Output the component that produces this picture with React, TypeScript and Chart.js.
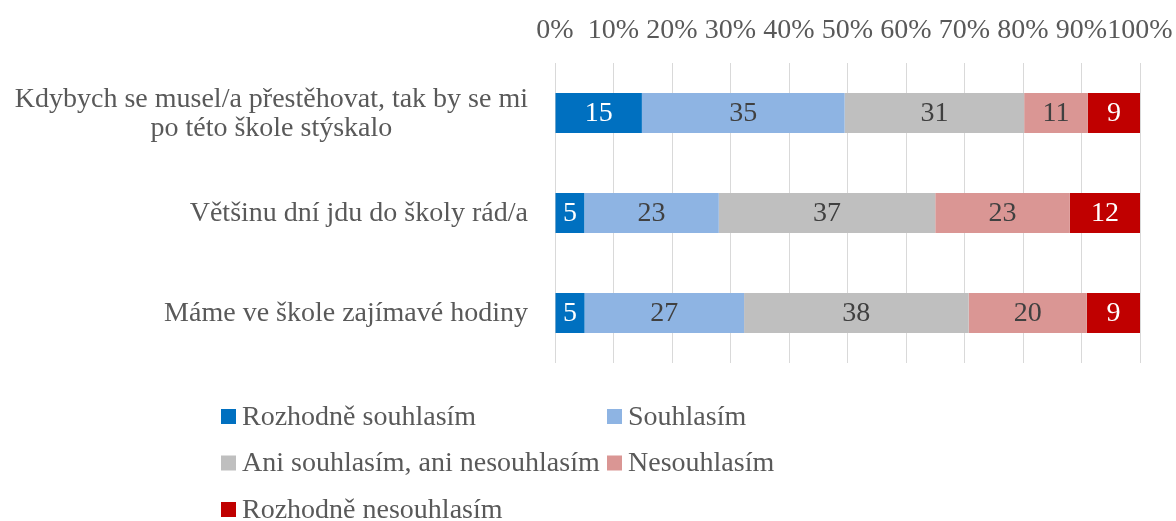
import React, { useEffect, useRef } from 'react';
import { Chart, registerables } from 'chart.js';

Chart.register(...registerables);

// ---- Data ----
const categories: string[][] = [
  ['Kdybych se musel/a přestěhovat, tak by se mi', 'po této škole stýskalo'],
  ['Většinu dní jdu do školy rád/a'],
  ['Máme ve škole zajímavé hodiny'],
];
const seriesNames = [
  'Rozhodně souhlasím',
  'Souhlasím',
  'Ani souhlasím, ani nesouhlasím',
  'Nesouhlasím',
  'Rozhodně nesouhlasím',
];
const rozhodneSouhlasim = [15, 5, 5];
const souhlasim = [35, 23, 27];
const aniAni = [31, 37, 38];
const nesouhlasim = [11, 23, 20];
const rozhodneNesouhlasim = [9, 12, 9];
const xTickValues = [0, 10, 20, 30, 40, 50, 60, 70, 80, 90, 100];

// ---- Styles ----
const seriesColors = ['#0070C0', '#8EB4E3', '#BFBFBF', '#DA9694', '#C00000'];
const labelColors = ['#FFFFFF', '#404040', '#404040', '#404040', '#FFFFFF'];
const FONT_FAMILY = '"Liberation Serif", "DejaVu Serif", serif';
const FONT_SIZE = 28;
const TEXT_COLOR = '#595959';

const allSeries = [rozhodneSouhlasim, souhlasim, aniAni, nesouhlasim, rozhodneNesouhlasim];
const totals = categories.map((_, i) => allSeries.reduce((s, arr) => s + arr[i], 0));

const dataLabelPlugin = {
  id: 'dataLabels',
  afterDatasetsDraw(chart: any) {
    const ctx = chart.ctx;
    ctx.save();
    ctx.font = `${FONT_SIZE}px ${FONT_FAMILY}`;
    ctx.textAlign = 'center';
    ctx.textBaseline = 'middle';
    chart.data.datasets.forEach((ds: any, di: number) => {
      const meta = chart.getDatasetMeta(di);
      meta.data.forEach((el: any, i: number) => {
        const p = el.getCenterPoint();
        ctx.fillStyle = labelColors[di];
        ctx.fillText(String(ds.rawValues[i]), p.x, p.y + 1);
      });
    });
    ctx.restore();
  },
};

const yLabelPlugin = {
  id: 'yLabels',
  afterDraw(chart: any) {
    const ctx = chart.ctx;
    const yScale = chart.scales.y;
    const right = chart.chartArea.left - 27;
    const lineH = 29;
    ctx.save();
    ctx.font = `${FONT_SIZE}px ${FONT_FAMILY}`;
    ctx.fillStyle = TEXT_COLOR;
    ctx.textAlign = 'center';
    ctx.textBaseline = 'middle';
    categories.forEach((lines, i) => {
      const yc = yScale.getPixelForValue(i);
      const maxW = Math.max(...lines.map((l) => ctx.measureText(l).width));
      const cx = right - maxW / 2;
      const y0 = yc - ((lines.length - 1) * lineH) / 2 + 1;
      lines.forEach((l, li) => ctx.fillText(l, cx, y0 + li * lineH));
    });
    ctx.restore();
  },
};

const legendPlugin = {
  id: 'gridLegend',
  afterDraw(chart: any) {
    const ctx = chart.ctx;
    const left = 221;
    const top = 416.5;
    const colW = 386;
    const rowH = 46.5;
    const box = 15;
    ctx.save();
    ctx.font = `${FONT_SIZE}px ${FONT_FAMILY}`;
    ctx.textBaseline = 'middle';
    ctx.textAlign = 'left';
    chart.data.datasets.forEach((ds: any, i: number) => {
      const col = i % 2;
      const row = Math.floor(i / 2);
      const x = left + col * colW;
      const y = top + row * rowH;
      ctx.fillStyle = ds.backgroundColor;
      ctx.fillRect(x, y - box / 2, box, box);
      ctx.fillStyle = TEXT_COLOR;
      ctx.fillText(ds.label, x + box + 6, y + 1);
    });
    ctx.restore();
  },
};

export default function App() {
  const ref = useRef<HTMLCanvasElement | null>(null);

  useEffect(() => {
    if (!ref.current) return;
    const chart = new Chart(ref.current, {
      type: 'bar',
      data: {
        labels: categories.map((l) => l.join(' ')),
        datasets: allSeries.map((arr, si) => ({
          label: seriesNames[si],
          data: arr.map((v, i) => (v / totals[i]) * 100),
          rawValues: arr,
          backgroundColor: seriesColors[si],
          borderWidth: 0,
          categoryPercentage: 1,
          barPercentage: 0.4,
        })) as any,
      },
      options: {
        indexAxis: 'y',
        responsive: false,
        animation: false,
        devicePixelRatio: 1,
        layout: { padding: { left: 0, top: 0, right: 36, bottom: 158 } },
        plugins: {
          legend: { display: false },
          tooltip: { enabled: false },
          title: { display: false },
        },
        scales: {
          x: {
            type: 'linear',
            position: 'top',
            stacked: true,
            min: 0,
            max: 100,
            afterBuildTicks: (s: any) => {
              s.ticks = xTickValues.map((v) => ({ value: v }));
            },
            afterFit: (s: any) => {
              s.height = 63;
              s.paddingLeft = 0;
              s.paddingRight = 0;
            },
            ticks: {
              stepSize: 10,
              color: TEXT_COLOR,
              font: { family: FONT_FAMILY, size: FONT_SIZE },
              padding: 16,
              maxRotation: 0,
              autoSkip: false,
              callback: (v: any) => `${v}%`,
            },
            grid: { color: '#D9D9D9', lineWidth: 1, drawTicks: false },
            border: { display: false },
          },
          y: {
            type: 'category',
            stacked: true,
            afterFit: (s: any) => {
              s.width = 555;
            },
            ticks: { display: false },
            grid: { display: false },
            border: { display: false },
          },
        },
      } as any,
      plugins: [dataLabelPlugin, yLabelPlugin, legendPlugin],
    });
    return () => chart.destroy();
  }, []);

  return (
    <div style={{ position: 'absolute', left: 0, top: 0, width: 1176, height: 521, background: '#fff' }}>
      <canvas ref={ref} width={1176} height={521} style={{ width: 1176, height: 521, display: 'block' }} />
    </div>
  );
}
